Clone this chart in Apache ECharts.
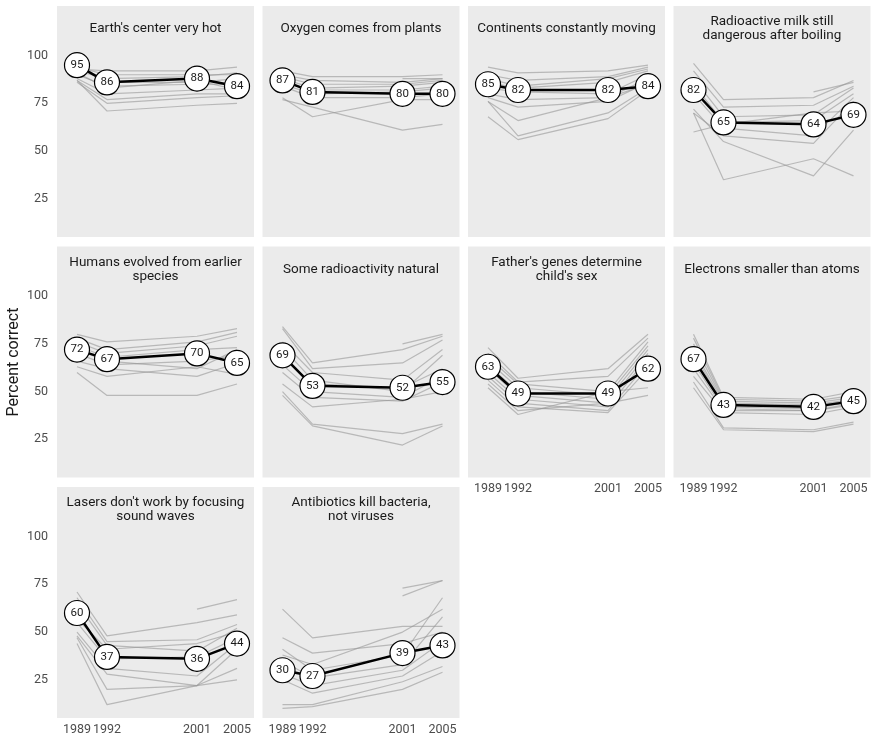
<!DOCTYPE html>
<html>
<head>
<meta charset="utf-8">
<script src="https://cdn.jsdelivr.net/npm/echarts@6/dist/echarts.min.js"></script>
<style>
  html, body { margin: 0; padding: 0; background: #ffffff; }
  #chart { width: 871px; height: 741px; }
</style>
</head>
<body>
<div id="chart"></div>
<script>
// survey years on the x axis
const years = [1989, 1992, 2001, 2005];
const yearLabels = ['1989', '1992', '2001', '2005'];
const yTickLabels = [25, 50, 75, 100];

// one panel per question
const questions = [
    "Earth's center very hot",
    "Oxygen comes from plants",
    "Continents constantly moving",
    "Radioactive milk still\ndangerous after boiling",
    "Humans evolved from earlier\nspecies",
    "Some radioactivity natural",
    "Father's genes determine\nchild's sex",
    "Electrons smaller than atoms",
    "Lasers don't work by focusing\nsound waves",
    "Antibiotics kill bacteria,\nnot viruses"
];

// average percent correct (black line with labelled circles)
const averages = [
    [95, 86, 88, 84],
    [87, 81, 80, 80],
    [85, 82, 82, 84],
    [82, 65, 64, 69],
    [72, 67, 70, 65],
    [69, 53, 52, 55],
    [63, 49, 49, 62],
    [67, 43, 42, 45],
    [60, 37, 36, 44],
    [30, 27, 39, 43]
];

// single countries (thin grey lines), null = not surveyed
const countryLines = [
    [[93, 92, 92, 94], [94, 90, 90, 90], [92, 88, 89, 91], [95, 86, 86, 88], [90, 84, 85, 85],
     [91, 83, 87, 82], [88, 80, 82, 83], [87, 77, 80, 80], [86, 75, 78, 79], [87, 71, 74, 75]],
    [[92, 89, 89, 90], [null, null, 88, 88], [90, 87, 86, 88], [89, 85, 85, 87], [88, 83, 84, 86],
     [86, 82, 82, 84], [85, 80, 81, 83], [84, 78, 78, 80], [78, 68, 77, 77], [77, 73, 61, 64]],
    [[94, 91, 92, 95], [90, 87, 89, 94], [88, 84, 88, 93], [86, 83, 86, 92], [83, 81, 80, 90],
     [80, 77, 78, 88], [78, 73, 76, 86], [76, 66, 78, 85], [76, 58, 70, 83], [68, 56, 67, 82]],
    [[96, 77, 78, 87], [null, null, 81, 86], [92, 73, 74, 84], [88, 68, 69, 83], [85, 65, 66, 80],
     [80, 62, 58, 78], [70, 58, 54, 76], [60, 64, 70, 71], [72, 55, 37, 61], [70, 35, 46, 37]],
    [[80, 76, 79, 83], [78, 72, 76, 81], [76, 70, 74, 79], [74, 68, 72, 73], [72, 66, 62, 72],
     [70, 64, 66, 69], [66, 62, 58, 65], [63, 58, 63, 59], [60, 48, 48, 54]],
    [[84, 65, 72, 79], [null, null, 75, 80], [83, 62, 65, 77], [76, 60, 56, 72], [73, 56, 50, 69],
     [68, 54, 52, 62], [64, 50, 47, 58], [60, 47, 45, 55], [54, 42, 46, 50], [50, 33, 28, 33],
     [48, 32, 22, 32]],
    [[73, 57, 62, 80], [70, 55, 58, 78], [68, 54, 50, 76], [66, 52, 48, 74], [64, 50, 46, 72],
     [62, 48, 44, 70], [60, 46, 42, 68], [58, 44, 40, 65], [56, 42, 39, 62], [54, 40, 44, 48],
     [52, 38, 50, 52]],
    [[80, 47, 46, 50], [78, 46, 45, 48], [75, 45, 44, 47], [72, 44, 43, 46], [70, 43, 42, 46],
     [68, 42, 41, 45], [65, 41, 40, 44], [62, 40, 40, 43], [58, 39, 38, 42], [55, 31, 30, 34],
     [52, 30, 29, 33]],
    [[null, null, 62, 67], [71, 48, 55, 59], [68, 45, 46, 54], [65, 43, 40, 52], [57, 41, 44, 50],
     [55, 36, 37, 47], [50, 31, 27, 44], [48, 28, 22, 41], [47, 20, 22, 31], [44, 12, 22, 25]],
    [[null, null, 73, 77], [null, null, 69, 77], [62, 47, 53, 53], [47, 39, 44, 50], [41, 30, 38, 68],
     [38, 33, 50, 62], [35, 26, 33, 58], [28, 22, 30, 45], [25, 18, 27, 40], [12, 12, 24, 32],
     [10, 11, 20, 29]]
];

const chart = echarts.init(document.getElementById('chart'));

// panel layout (px)
const panelLefts = [57, 262.5, 468, 673.5];
const panelTops = [6, 246.5, 487];
const panelW = 197;
const panelH = 231;
const FONT = 'Roboto';

const toPoints = (vals) => years
    .map((yr, k) => [yr, vals[k]])
    .filter(p => p[1] !== null);

const grids = [], xAxes = [], yAxes = [], series = [], titles = [];

questions.forEach((q, i) => {
    const col = i % 4;
    const row = Math.floor(i / 4);
    const left = panelLefts[col];
    const top = panelTops[row];

    grids.push({
        left: left, top: top, width: panelW, height: panelH,
        show: true, backgroundColor: '#ebebeb', borderWidth: 0
    });

    xAxes.push({
        gridIndex: i, type: 'value', min: 1987, max: 2006.7, interval: 1,
        axisLine: { show: false }, axisTick: { show: false }, splitLine: { show: false },
        axisLabel: {
            show: i >= 6, interval: 0, margin: 5,
            color: '#4d4d4d', fontFamily: FONT, fontSize: 12.5,
            showMinLabel: false, showMaxLabel: false,
            formatter: v => {
                const k = years.indexOf(v);
                return k >= 0 ? yearLabels[k] : '';
            }
        }
    });

    yAxes.push({
        gridIndex: i, type: 'value', min: 5, max: 126, interval: 5,
        axisLine: { show: false }, axisTick: { show: false }, splitLine: { show: false },
        axisLabel: {
            show: col === 0, interval: 0, margin: 9,
            color: '#4d4d4d', fontFamily: FONT, fontSize: 12.5,
            showMinLabel: false, showMaxLabel: false,
            formatter: v => yTickLabels.includes(v) ? String(v) : ''
        }
    });

    countryLines[i].forEach(vals => {
        series.push({
            type: 'line', xAxisIndex: i, yAxisIndex: i,
            data: toPoints(vals), symbol: 'none', silent: true,
            lineStyle: { color: 'rgba(150,150,150,0.6)', width: 1.2 },
            z: 2
        });
    });

    series.push({
        type: 'line', xAxisIndex: i, yAxisIndex: i,
        data: toPoints(averages[i]),
        symbol: 'circle', symbolSize: 25,
        lineStyle: { color: '#000', width: 2.5 },
        itemStyle: { color: '#fff', borderColor: '#000', borderWidth: 1.2 },
        label: {
            show: true, position: 'inside',
            formatter: p => p.value[1],
            color: '#1a1a1a', fontFamily: FONT, fontSize: 11.5
        },
        z: 5
    });

    const nLines = q.split('\n').length;
    titles.push({
        text: q,
        left: left + panelW / 2,
        top: top + 23 - nLines * 7,
        padding: 0,
        textAlign: 'center',
        textStyle: {
            fontFamily: FONT, fontSize: 13.5, fontWeight: 'normal',
            color: '#1a1a1a', lineHeight: 14
        }
    });
});

chart.setOption({
    animation: false,
    backgroundColor: '#ffffff',
    title: titles,
    grid: grids,
    xAxis: xAxes,
    yAxis: yAxes,
    series: series,
    graphic: [{
        type: 'text',
        x: 14, y: 362,
        rotation: Math.PI / 2,
        style: {
            text: 'Percent correct',
            fontFamily: FONT, fontSize: 16,
            fill: '#1a1a1a',
            textAlign: 'center', textVerticalAlign: 'middle'
        }
    }]
});
</script>
</body>
</html>
